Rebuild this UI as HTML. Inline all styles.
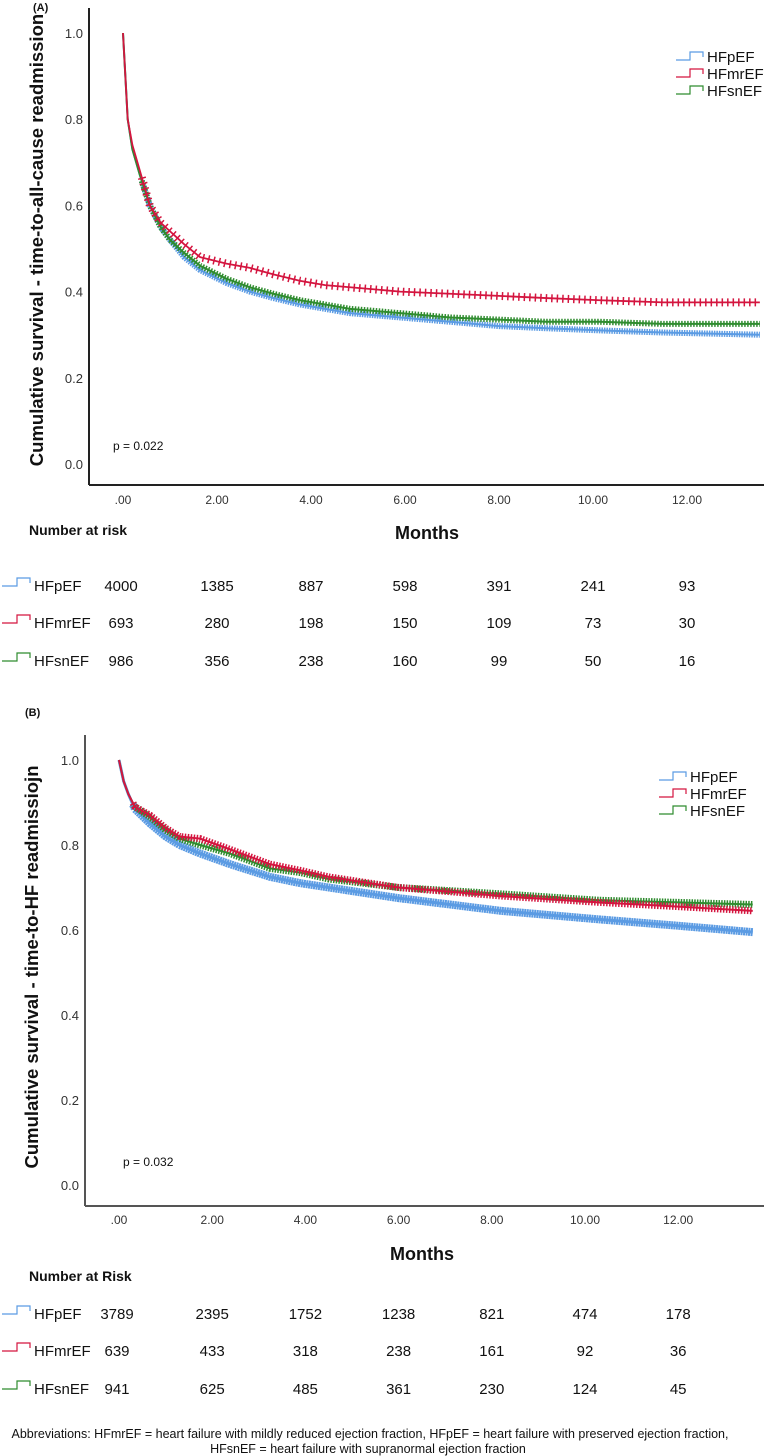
<!DOCTYPE html>
<html><head><meta charset="utf-8"><style>
html,body{margin:0;padding:0;background:#fff;}
svg{display:block;font-family:"Liberation Sans",Arial,sans-serif;}
</style></head><body>
<svg id="root" width="766" height="1456" viewBox="0 0 766 1456" xmlns="http://www.w3.org/2000/svg">
<g id="gA"></g>
<g id="gB"></g>
<text x="370" y="1438" text-anchor="middle" font-size="12.5" fill="#111">Abbreviations: HFmrEF = heart failure with mildly reduced ejection fraction, HFpEF = heart failure with preserved ejection fraction,</text>
<text x="368" y="1453" text-anchor="middle" font-size="12.5" fill="#111">HFsnEF = heart failure with supranormal ejection fraction</text>
</svg>
<script>
const NS="http://www.w3.org/2000/svg";
const seriesNames=["HFpEF","HFmrEF","HFsnEF"];
const seriesColors=["#5b9be3","#d4153f","#2f8c2f"];
const xTickValues=[0,2,4,6,8,10,12];
const xTickLabels=[".00","2.00","4.00","6.00","8.00","10.00","12.00"];
const yTickValues=[0,0.2,0.4,0.6,0.8,1.0];
const yTickLabels=["0.0","0.2","0.4","0.6","0.8","1.0"];
// Panel A data
const timesA=[0,0.05,0.1,0.2,0.36,0.57,0.8,1.0,1.3,1.64,2.2,2.7,3.2,3.77,4.3,4.83,5.9,6.96,8.0,9,10.15,11.5,13.55];
const pefA=[1,0.9,0.8,0.73,0.67,0.6,0.55,0.52,0.48,0.45,0.42,0.40,0.385,0.37,0.36,0.35,0.34,0.33,0.32,0.315,0.31,0.305,0.30];
const mrefA=[1,0.9,0.8,0.74,0.68,0.6,0.56,0.54,0.51,0.48,0.465,0.455,0.44,0.425,0.415,0.41,0.40,0.395,0.39,0.385,0.38,0.375,0.375];
const snefA=[1,0.9,0.8,0.73,0.67,0.6,0.55,0.52,0.49,0.46,0.43,0.41,0.395,0.38,0.37,0.36,0.35,0.34,0.335,0.33,0.33,0.325,0.325];
const riskA=[[4000,1385,887,598,391,241,93],[693,280,198,150,109,73,30],[986,356,238,160,99,50,16]];
// Panel B data
const timesB=[0,0.1,0.2,0.34,0.67,1.0,1.3,1.74,2.38,3.24,3.9,4.5,6.0,8.2,10.3,12,13.6];
const pefB=[1,.95,.92,.885,.85,.82,.80,.78,.755,.725,.71,.70,.675,.645,.625,.61,.595];
const mrefB=[1,.95,.92,.89,.87,.84,.82,.815,.79,.755,.74,.725,.70,.68,.665,.655,.645];
const snefB=[1,.95,.92,.89,.865,.835,.815,.80,.78,.745,.735,.72,.70,.685,.67,.665,.66];
const riskB=[[3789,2395,1752,1238,821,474,178],[639,433,318,238,161,92,36],[941,625,485,361,230,124,45]];

function el(parent,tag,attrs,text){const e=document.createElementNS(NS,tag);for(const k in attrs)e.setAttribute(k,attrs[k]);if(text!==undefined)e.textContent=text;parent.appendChild(e);return e;}

function panel(g,cfg){
  const X=t=>cfg.x0+cfg.xs*t;
  const Y=v=>cfg.y0-(cfg.y0-cfg.y1)*v;
  let e;
  e=el(g,"text",{x:cfg.lx,y:cfg.ly,"font-size":11,"font-weight":"bold",fill:"#111"},cfg.label);
  
  
  e=el(g,"line",{x1:cfg.ax,y1:cfg.atop,x2:cfg.ax,y2:cfg.ab,stroke:cfg.axc,"stroke-width":2});
  
  
  e=el(g,"line",{x1:cfg.ax,y1:cfg.ab,x2:764,y2:cfg.ab,stroke:cfg.axc,"stroke-width":2});
  
  
  yTickValues.forEach((v,i)=>{
    e=el(g,"text",{x:cfg.ytx,y:Y(v)+5,"text-anchor":"end","font-size":13,fill:"#333"},yTickLabels[i]);
    
    
  });
  xTickValues.forEach((v,i)=>{
    e=el(g,"text",{x:X(v),y:cfg.xty,"text-anchor":"middle","font-size":12,fill:"#333"},xTickLabels[i]);
    
    
  });
  e=el(g,"text",{transform:`translate(${cfg.ytitx},${cfg.ytity}) rotate(-90)`,"text-anchor":"middle","font-size":18.5,"font-weight":"bold",fill:"#111"},cfg.ytitle);
  
  
  e=el(g,"text",{x:cfg.mx,y:cfg.my,"text-anchor":"middle","font-size":18,"font-weight":"bold",fill:"#111"},"Months");
  
  
  e=el(g,"text",{x:cfg.px,y:cfg.py,"font-size":12,fill:"#111"},cfg.pval);
  
  
  const order=[0,2,1];
  order.forEach(si=>{
    const vals=cfg.series[si];
    let d=`M${X(cfg.times[0])},${Y(vals[0])}`;
    for(let i=1;i<cfg.times.length;i++){d+=` L${X(cfg.times[i])},${Y(vals[i])}`;}
    const p=el(g,"path",{d:d,fill:"none",stroke:seriesColors[si],"stroke-width":cfg.lw[si],"stroke-linejoin":"round"});
    
    
    let d2=`M${X(cfg.censorStart)},${Y(interpL(cfg.times,vals,cfg.censorStart))}`;
    for(let i=1;i<cfg.times.length;i++){ if(cfg.times[i]<=cfg.censorStart)continue; d2+=` L${X(cfg.times[i])},${Y(vals[i])}`;}
    const c=el(g,"path",{d:d2,fill:"none",stroke:seriesColors[si],"stroke-width":cfg.cw[si],"stroke-dasharray":cfg.dash[si]});
    
    
  });
  seriesNames.forEach((n,i)=>{
    const y=cfg.legy+i*cfg.legdy;
    e=el(g,"path",{d:`M${cfg.legx},${y+4} h14 v-8 h13 v5`,fill:"none",stroke:seriesColors[i],"stroke-width":1.2});
    
    
    e=el(g,"text",{x:cfg.legx+31,y:y+6,"font-size":15,fill:"#111"},n);
    
    
  });
  e=el(g,"text",{x:29,y:cfg.nary,"font-size":14,"font-weight":"bold",fill:"#111"},cfg.nar);
  
  
  seriesNames.forEach((n,i)=>{
    const y=cfg.rowy[i];
    e=el(g,"path",{d:`M2,${y} h15 v-8 h13 v5`,fill:"none",stroke:seriesColors[i],"stroke-width":1.2});
    
    
    e=el(g,"text",{x:34,y:y+5,"font-size":15,fill:"#111"},n);
    
    
    cfg.risk[i].forEach((v,j)=>{
      e=el(g,"text",{x:X(xTickValues[j])+(j===0?-2:0),y:y+5,"text-anchor":"middle","font-size":15,fill:"#111"},String(v));
      
      
    });
  });
}
function interpL(ts,vs,t){for(let i=1;i<ts.length;i++){if(ts[i]>=t){const f=(t-ts[i-1])/(ts[i]-ts[i-1]);return vs[i-1]+f*(vs[i]-vs[i-1]);}}return vs[vs.length-1];}

panel(document.getElementById("gA"),{label:"(A)",lx:33,ly:11,x0:123,xs:47,y0:464,y1:33,ax:89,atop:8,ab:485,axc:"#222",
 ytx:83,xty:504,ytitx:43,ytity:240,ytitle:"Cumulative survival - time-to-all-cause readmission",mx:427,my:539,px:113,py:450,pval:"p = 0.022",
 times:timesA,series:[pefA,mrefA,snefA],censorStart:0.4,lw:[2,1.8,2],cw:[6,8,6],dash:["1.5 1","1.5 4","1.5 1.5"],
 legx:676,legy:56,legdy:17,nar:"Number at risk",nary:535,rowy:[586,623,661],risk:riskA});
panel(document.getElementById("gB"),{label:"(B)",lx:25,ly:716,x0:119,xs:46.6,y0:1185,y1:760,ax:85,atop:735,ab:1206,axc:"#555",
 ytitx:38,ytity:967,xty:1224,ytitle:"Cumulative survival - time-to-HF readmissiojn",mx:422,my:1260,px:123,py:1166,pval:"p = 0.032",
 ytx:79,times:timesB,series:[pefB,mrefB,snefB],censorStart:0.3,lw:[3,2,2],cw:[8,7,7],dash:["2 0.5","1.5 1.5","1.5 1.2"],
 legx:659,legy:776,legdy:17,nar:"Number at Risk",nary:1281,rowy:[1314,1351,1389],risk:riskB});
</script>
</body></html>
